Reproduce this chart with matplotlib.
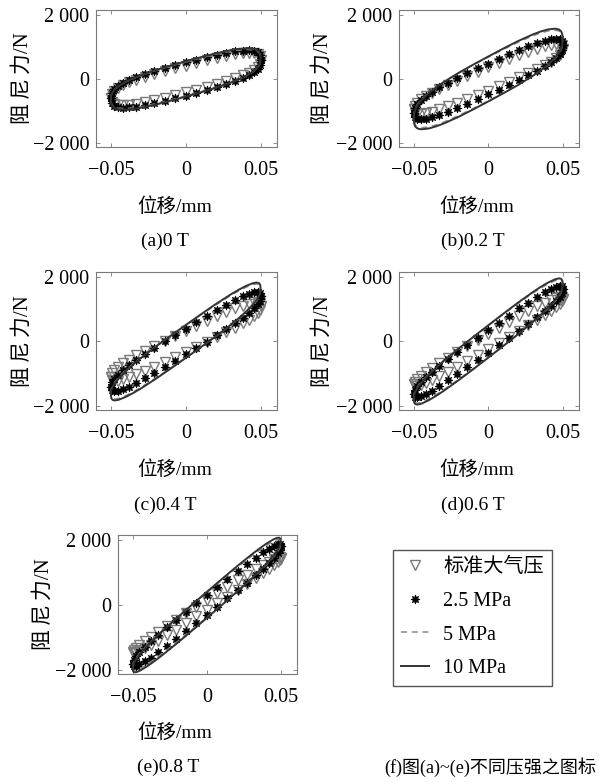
import matplotlib.pyplot as plt

plt.rcParams['font.family'] = ['Liberation Serif', 'Noto Sans CJK SC']
plt.rcParams['font.size'] = 14

# displacement samples (mm): line curves and measured markers
X_LINE = [-0.05, -0.0498, -0.049, -0.0475, -0.045, -0.04, -0.035, -0.03, -0.02, -0.01, 0,
          0.01, 0.02, 0.03, 0.035, 0.04, 0.045, 0.0475, 0.049, 0.0498, 0.05]
X_MARK = [-0.05, -0.0495, -0.048, -0.0455, -0.042, -0.038, -0.033, -0.027, -0.021, -0.014, -0.007, 0,
          0.007, 0.014, 0.021, 0.027, 0.033, 0.038, 0.042, 0.0455, 0.048, 0.0495, 0.05]

# damping force (N), upper branch and lower branch, per field strength
# (a) 0 T
T00_ATM_UP = [-600, -464, -371, -283, -193, -109, -21, 73, 158, 249, 336, 420, 504, 585, 662, 721, 771, 803, 815, 809, 781, 724, 600]
T00_ATM_LO = [-600, -724, -781, -809, -815, -803, -771, -721, -662, -585, -504, -420, -336, -249, -158, -73, 21, 109, 193, 283, 371, 464, 600]
T00_P25_UP = [-600, -433, -323, -220, -119, -27, 68, 167, 255, 348, 435, 520, 603, 684, 759, 815, 860, 885, 889, 872, 829, 755, 600]
T00_P25_LO = [-600, -755, -829, -872, -889, -885, -860, -815, -759, -684, -603, -520, -435, -348, -255, -167, -68, 27, 119, 220, 323, 433, 600]
T00_P5_UP = [-630, -506, -411, -322, -224, -87, 20, 111, 266, 402, 530, 654, 770, 867, 902, 921, 910, 876, 823, 748, 630]
T00_P5_LO = [-630, -748, -823, -876, -910, -921, -902, -867, -770, -654, -530, -402, -266, -111, -20, 87, 224, 322, 411, 506, 630]
T00_P10_UP = [-650, -521, -423, -330, -229, -87, 23, 117, 278, 418, 550, 678, 798, 897, 933, 953, 941, 906, 851, 773, 650]
T00_P10_LO = [-650, -773, -851, -906, -941, -953, -933, -897, -798, -678, -550, -418, -278, -117, -23, 87, 229, 330, 423, 521, 650]

# (b) 0.2 T
T02_ATM_UP = [-950, -829, -737, -639, -531, -425, -306, -173, -48, 91, 227, 360, 493, 623, 750, 853, 948, 1019, 1065, 1091, 1087, 1053, 950]
T02_ATM_LO = [-950, -1053, -1087, -1091, -1065, -1019, -948, -853, -750, -623, -493, -360, -227, -91, 48, 173, 306, 425, 531, 639, 737, 829, 950]
T02_P25_UP = [-1050, -891, -774, -655, -526, -402, -264, -113, 27, 183, 333, 480, 627, 771, 909, 1021, 1122, 1194, 1238, 1257, 1242, 1189, 1050]
T02_P25_LO = [-1050, -1189, -1242, -1257, -1238, -1194, -1122, -1021, -909, -771, -627, -480, -333, -183, -27, 113, 264, 402, 526, 655, 774, 891, 1050]
T02_P5_UP = [-1200, -1039, -911, -784, -640, -425, -249, -93, 185, 438, 680, 918, 1145, 1347, 1431, 1495, 1520, 1496, 1441, 1351, 1200]
T02_P5_LO = [-1200, -1351, -1441, -1496, -1520, -1495, -1431, -1347, -1145, -918, -680, -438, -185, 93, 249, 425, 640, 784, 911, 1039, 1200]
T02_P10_UP = [-1240, -1075, -943, -812, -663, -441, -260, -99, 189, 450, 700, 946, 1181, 1389, 1476, 1543, 1569, 1544, 1487, 1395, 1240]
T02_P10_LO = [-1240, -1395, -1487, -1544, -1569, -1543, -1476, -1389, -1181, -946, -700, -450, -189, 99, 260, 441, 663, 812, 943, 1075, 1240]

# (c) 0.4 T
T04_ATM_UP = [-1100, -987, -895, -794, -679, -564, -431, -282, -140, 20, 176, 330, 484, 636, 784, 906, 1021, 1108, 1169, 1208, 1217, 1191, 1100]
T04_ATM_LO = [-1100, -1191, -1217, -1208, -1169, -1108, -1021, -906, -784, -636, -484, -330, -176, -20, 140, 282, 431, 564, 679, 794, 895, 987, 1100]
T04_P25_UP = [-1400, -1262, -1149, -1023, -880, -734, -567, -378, -198, 5, 204, 400, 596, 789, 978, 1134, 1281, 1394, 1472, 1525, 1539, 1510, 1400]
T04_P25_LO = [-1400, -1510, -1539, -1525, -1472, -1394, -1281, -1134, -978, -789, -596, -400, -204, -5, 198, 378, 567, 734, 880, 1023, 1149, 1262, 1400]
T04_P5_UP = [-1600, -1479, -1373, -1258, -1116, -886, -685, -499, -151, 179, 500, 819, 1129, 1421, 1555, 1674, 1764, 1782, 1763, 1709, 1600]
T04_P5_LO = [-1600, -1709, -1763, -1782, -1764, -1674, -1555, -1421, -1129, -819, -500, -179, 151, 499, 685, 886, 1116, 1258, 1373, 1479, 1600]
T04_P10_UP = [-1640, -1516, -1409, -1291, -1146, -911, -705, -514, -157, 180, 510, 836, 1155, 1454, 1591, 1713, 1806, 1825, 1805, 1750, 1640]
T04_P10_LO = [-1640, -1750, -1805, -1825, -1806, -1713, -1591, -1454, -1155, -836, -510, -180, 157, 514, 705, 911, 1146, 1291, 1409, 1516, 1640]

# (d) 0.6 T
T06_ATM_UP = [-1330, -1246, -1165, -1066, -947, -821, -673, -501, -335, -144, 44, 230, 416, 600, 783, 935, 1083, 1201, 1287, 1354, 1389, 1388, 1330]
T06_ATM_LO = [-1330, -1388, -1389, -1354, -1287, -1201, -1083, -935, -783, -600, -416, -230, -44, 144, 335, 501, 673, 821, 947, 1066, 1165, 1246, 1330]
T06_P25_UP = [-1620, -1495, -1385, -1255, -1102, -942, -756, -544, -339, -106, 123, 350, 577, 802, 1021, 1206, 1382, 1520, 1620, 1693, 1725, 1713, 1620]
T06_P25_LO = [-1620, -1713, -1725, -1693, -1620, -1520, -1382, -1206, -1021, -802, -577, -350, -123, 106, 339, 544, 756, 942, 1102, 1255, 1385, 1495, 1620]
T06_P5_UP = [-1740, -1621, -1514, -1397, -1249, -1006, -792, -592, -217, 141, 490, 837, 1175, 1496, 1644, 1778, 1883, 1909, 1896, 1845, 1740]
T06_P5_LO = [-1740, -1845, -1896, -1909, -1883, -1778, -1644, -1496, -1175, -837, -490, -141, 217, 592, 792, 1006, 1249, 1397, 1514, 1621, 1740]
T06_P10_UP = [-1780, -1658, -1549, -1429, -1278, -1030, -811, -607, -223, 143, 500, 855, 1201, 1529, 1681, 1818, 1926, 1953, 1939, 1888, 1780]
T06_P10_LO = [-1780, -1888, -1939, -1953, -1926, -1818, -1681, -1529, -1201, -855, -500, -143, 223, 607, 811, 1030, 1278, 1429, 1549, 1658, 1780]

# (e) 0.8 T
T08_ATM_UP = [-1450, -1389, -1319, -1226, -1107, -978, -823, -641, -463, -257, -53, 150, 353, 555, 755, 925, 1091, 1226, 1329, 1414, 1465, 1483, 1450]
T08_ATM_LO = [-1450, -1483, -1465, -1414, -1329, -1226, -1091, -925, -755, -555, -353, -150, 53, 257, 463, 641, 823, 978, 1107, 1226, 1319, 1389, 1450]
T08_P25_UP = [-1800, -1689, -1582, -1450, -1290, -1120, -920, -688, -463, -206, 48, 300, 552, 802, 1049, 1256, 1456, 1616, 1734, 1826, 1874, 1875, 1800]
T08_P25_LO = [-1800, -1875, -1874, -1826, -1734, -1616, -1456, -1256, -1049, -802, -552, -300, -48, 206, 463, 688, 920, 1120, 1290, 1450, 1582, 1689, 1800]
T08_P5_UP = [-1900, -1805, -1714, -1606, -1464, -1221, -1000, -790, -388, -1, 380, 759, 1132, 1490, 1660, 1819, 1956, 2004, 2010, 1979, 1900]
T08_P5_LO = [-1900, -1979, -2010, -2004, -1956, -1819, -1660, -1490, -1132, -759, -380, 1, 388, 790, 1000, 1221, 1464, 1606, 1714, 1805, 1900]
T08_P10_UP = [-1950, -1850, -1755, -1644, -1496, -1245, -1017, -801, -389, 9, 400, 789, 1171, 1539, 1713, 1875, 2014, 2062, 2067, 2034, 1950]
T08_P10_LO = [-1950, -2034, -2067, -2062, -2014, -1875, -1713, -1539, -1171, -789, -400, -9, 389, 801, 1017, 1245, 1496, 1644, 1755, 1850, 1950]

CAPTIONS = ['(a)0 T', '(b)0.2 T', '(c)0.4 T', '(d)0.6 T', '(e)0.8 T']
SERIES = ['标准大气压', '2.5 MPa', '5 MPa', '10 MPa']
XTICKS = [-0.05, 0, 0.05]
XTICK_LABELS = ['\u22120.05', '0', '0.05']
YTICKS = [-2000, 0, 2000]
YTICK_LABELS = ['\u22122 000', '0', '2 000']

PANELS = [
    (T00_ATM_UP, T00_ATM_LO, T00_P25_UP, T00_P25_LO, T00_P5_UP, T00_P5_LO, T00_P10_UP, T00_P10_LO),
    (T02_ATM_UP, T02_ATM_LO, T02_P25_UP, T02_P25_LO, T02_P5_UP, T02_P5_LO, T02_P10_UP, T02_P10_LO),
    (T04_ATM_UP, T04_ATM_LO, T04_P25_UP, T04_P25_LO, T04_P5_UP, T04_P5_LO, T04_P10_UP, T04_P10_LO),
    (T06_ATM_UP, T06_ATM_LO, T06_P25_UP, T06_P25_LO, T06_P5_UP, T06_P5_LO, T06_P10_UP, T06_P10_LO),
    (T08_ATM_UP, T08_ATM_LO, T08_P25_UP, T08_P25_LO, T08_P5_UP, T08_P5_LO, T08_P10_UP, T08_P10_LO),
]

W, H = 599, 782
fig = plt.figure(figsize=(W / 100, H / 100), dpi=100)


def px(x, y):
    return x / W, 1 - y / H


# axes boxes in pixels: left, top, right, bottom
BOXES = [(96, 10, 277, 147), (399, 10, 579, 147),
         (96, 272, 277, 410), (399, 272, 579, 410),
         (118, 535, 297, 674)]
YLABEL_X = [23, 323, 23, 323, 44]
XLABEL_POS = [(175, 207), (477, 207), (175, 470), (477, 470), (175, 733)]
CAPTION_POS = [(165, 241), (473, 241), (165, 505), (473, 505), (168, 767)]

GRAY = '#7a7a7a'
handles = None
for i, data in enumerate(PANELS):
    l, t, r, b = BOXES[i]
    ax = fig.add_axes([l / W, 1 - b / H, (r - l) / W, (b - t) / H])
    atm_up, atm_lo, p25_up, p25_lo, p5_up, p5_lo, p10_up, p10_lo = data

    xm = X_MARK + X_MARK[::-1]
    xl = X_LINE + X_LINE[::-1]
    h1, = ax.plot(xm, atm_up + atm_lo[::-1], linestyle='none', marker='v', markersize=6.5,
                  markerfacecolor='none', markeredgecolor=GRAY, markeredgewidth=1.0)
    h2, = ax.plot(xm, p25_up + p25_lo[::-1], linestyle='none', marker=(8, 1, 0), markersize=6.5,
                  color='black', markeredgewidth=0.5)
    h3, = ax.plot(xl, p5_up + p5_lo[::-1], color='#8a8a8a', lw=1.1, linestyle=(0, (4, 3)))
    h4, = ax.plot(xl, p10_up + p10_lo[::-1], color='#333333', lw=1.4)
    if handles is None:
        handles = [h1, h2, h3, h4]

    ax.set_xlim(-0.06, 0.061)
    ax.set_ylim(-2120, 2150)
    ax.set_xticks(XTICKS)
    ax.set_xticklabels(XTICK_LABELS)
    ax.set_yticks(YTICKS)
    ax.set_yticklabels(YTICK_LABELS)
    ax.tick_params(direction='in', length=3, width=0.6, color=GRAY, top=True, right=True,
                   labelsize=14.5, pad=5)
    ax.tick_params(axis='x', pad=10)
    for sp in ax.spines.values():
        sp.set_color(GRAY)
        sp.set_linewidth(0.8)

    cy = (t + b) / 2
    fig.text(*px(YLABEL_X[i], cy), '阻\u2009尼\u2009力/N', rotation=90, ha='center', va='center',
             fontsize=15)
    fig.text(*px(*XLABEL_POS[i]), '位移/mm', ha='center', va='center', fontsize=14)
    fig.text(*px(*CAPTION_POS[i]), CAPTIONS[i], ha='center', va='center', fontsize=14)

fig.legend(handles, SERIES, loc='upper left', bbox_to_anchor=px(393, 550), borderaxespad=0,
           frameon=True, fancybox=False, edgecolor='#555555', framealpha=1, fontsize=14.5,
           borderpad=0.4, handlelength=1.4, handletextpad=0.7, labelspacing=0.72)
fig.text(*px(490, 767), '(f)图(a)~(e)不同压强之图标', ha='center', va='center', fontsize=13)

fig.savefig('out.png', dpi=100)
